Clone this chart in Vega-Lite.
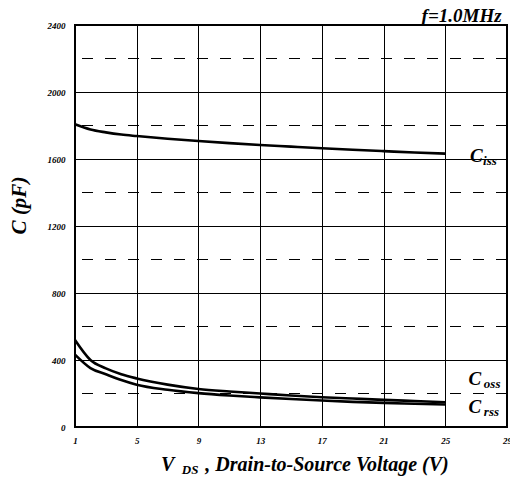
{
  "$schema": "https://vega.github.io/schema/vega-lite/v6.json",
  "width": 432,
  "height": 402,
  "autosize": {"type": "none"},
  "padding": {"left": 75, "top": 25, "right": 3, "bottom": 58},
  "background": "white",
  "config": {
    "view": {"stroke": "black", "strokeWidth": 2},
    "font": "Liberation Serif"
  },
  "datasets": {
    "curves": [
      {"series": "Ciss", "vds": 1, "c": 1807}, {"series": "Ciss", "vds": 2, "c": 1776}, {"series": "Ciss", "vds": 3, "c": 1759}, {"series": "Ciss", "vds": 4, "c": 1746}, {"series": "Ciss", "vds": 5, "c": 1737}, {"series": "Ciss", "vds": 7, "c": 1721}, {"series": "Ciss", "vds": 9, "c": 1707}, {"series": "Ciss", "vds": 11, "c": 1695}, {"series": "Ciss", "vds": 13, "c": 1684}, {"series": "Ciss", "vds": 15, "c": 1674}, {"series": "Ciss", "vds": 17, "c": 1664}, {"series": "Ciss", "vds": 19, "c": 1655}, {"series": "Ciss", "vds": 21, "c": 1647}, {"series": "Ciss", "vds": 23, "c": 1639}, {"series": "Ciss", "vds": 25, "c": 1632},
      {"series": "Coss", "vds": 1, "c": 519}, {"series": "Coss", "vds": 2, "c": 400}, {"series": "Coss", "vds": 3, "c": 350}, {"series": "Coss", "vds": 4, "c": 315}, {"series": "Coss", "vds": 5, "c": 290}, {"series": "Coss", "vds": 7, "c": 253}, {"series": "Coss", "vds": 9, "c": 227}, {"series": "Coss", "vds": 11, "c": 212}, {"series": "Coss", "vds": 13, "c": 200}, {"series": "Coss", "vds": 15, "c": 188}, {"series": "Coss", "vds": 17, "c": 178}, {"series": "Coss", "vds": 19, "c": 170}, {"series": "Coss", "vds": 21, "c": 162}, {"series": "Coss", "vds": 23, "c": 155}, {"series": "Coss", "vds": 25, "c": 148},
      {"series": "Crss", "vds": 1, "c": 432}, {"series": "Crss", "vds": 2, "c": 352}, {"series": "Crss", "vds": 3, "c": 315}, {"series": "Crss", "vds": 4, "c": 280}, {"series": "Crss", "vds": 5, "c": 252}, {"series": "Crss", "vds": 7, "c": 222}, {"series": "Crss", "vds": 9, "c": 202}, {"series": "Crss", "vds": 11, "c": 188}, {"series": "Crss", "vds": 13, "c": 177}, {"series": "Crss", "vds": 15, "c": 167}, {"series": "Crss", "vds": 17, "c": 158}, {"series": "Crss", "vds": 19, "c": 150}, {"series": "Crss", "vds": 21, "c": 144}, {"series": "Crss", "vds": 23, "c": 139}, {"series": "Crss", "vds": 25, "c": 134}
    ],
    "dashed": [{"c": 200}, {"c": 600}, {"c": 1000}, {"c": 1400}, {"c": 1800}, {"c": 2200}],
    "bigLabels": [
      {"t": "C", "vds": 26.6, "c": 1584},
      {"t": "C", "vds": 26.5, "c": 251},
      {"t": "C", "vds": 26.5, "c": 82}
    ],
    "subLabels": [
      {"t": "iss", "vds": 27.45, "c": 1564},
      {"t": "oss", "vds": 27.5, "c": 233},
      {"t": "rss", "vds": 27.5, "c": 66}
    ],
    "freq": [{"t": "f=1.0MHz", "vds": 28.65, "c": 2420}],
    "xtitle": [
      {"t": "V", "vds": 6.57, "c": -263},
      {"t": ", Drain-to-Source Voltage (V)", "vds": 9.45, "c": -263}
    ],
    "xsub": [{"t": "DS", "vds": 7.92, "c": -279}]
  },
  "layer": [
    {
      "data": {"name": "dashed"},
      "mark": {"type": "rule", "color": "black", "strokeWidth": 1, "strokeDash": [11, 12]},
      "encoding": {
        "y": {"field": "c", "type": "quantitative", "scale": {"domain": [0, 2400], "nice": false}}
      }
    },
    {
      "data": {"name": "curves"},
      "mark": {"type": "line", "color": "black", "strokeWidth": 2.6, "interpolate": "monotone"},
      "encoding": {
        "x": {
          "field": "vds", "type": "quantitative",
          "scale": {"domain": [1, 29], "nice": false, "zero": false},
          "axis": {
            "values": [1, 5, 9, 13, 17, 21, 25, 29], "format": "d",
            "grid": true, "gridColor": "black", "gridOpacity": 1, "gridWidth": 1,
            "domain": false, "ticks": false, "labelPadding": 9,
            "labelFont": "Liberation Serif", "labelFontStyle": "italic", "labelFontWeight": "bold",
            "labelFontSize": 9, "labelColor": "black", "labelFlush": false,
            "title": null
          }
        },
        "y": {
          "field": "c", "type": "quantitative",
          "scale": {"domain": [0, 2400], "nice": false},
          "axis": {
            "values": [0, 400, 800, 1200, 1600, 2000, 2400], "format": "d",
            "grid": true, "gridColor": "black", "gridOpacity": 1, "gridWidth": 1,
            "domain": false, "ticks": false, "labelPadding": 10,
            "labelFont": "Liberation Serif", "labelFontStyle": "italic", "labelFontWeight": "bold",
            "labelFontSize": 9, "labelColor": "black",
            "title": "C (pF)", "titleFont": "Liberation Serif", "titleFontStyle": "italic",
            "titleFontWeight": "bold", "titleFontSize": 21, "titleColor": "black", "titlePadding": 18,
            "titleY": 180
          }
        },
        "detail": {"field": "series"}
      }
    },
    {
      "data": {"name": "bigLabels"},
      "mark": {"type": "text", "font": "Liberation Serif", "fontStyle": "italic", "fontWeight": "bold", "fontSize": 19, "align": "left", "baseline": "alphabetic", "color": "black"},
      "encoding": {
        "x": {"field": "vds", "type": "quantitative"},
        "y": {"field": "c", "type": "quantitative"},
        "text": {"field": "t"}
      }
    },
    {
      "data": {"name": "subLabels"},
      "mark": {"type": "text", "font": "Liberation Serif", "fontStyle": "italic", "fontWeight": "bold", "fontSize": 13, "align": "left", "baseline": "alphabetic", "color": "black"},
      "encoding": {
        "x": {"field": "vds", "type": "quantitative"},
        "y": {"field": "c", "type": "quantitative"},
        "text": {"field": "t"}
      }
    },
    {
      "data": {"name": "freq"},
      "mark": {"type": "text", "font": "Liberation Serif", "fontStyle": "italic", "fontWeight": "bold", "fontSize": 19, "align": "right", "baseline": "alphabetic", "color": "black"},
      "encoding": {
        "x": {"field": "vds", "type": "quantitative"},
        "y": {"field": "c", "type": "quantitative"},
        "text": {"field": "t"}
      }
    },
    {
      "data": {"name": "xtitle"},
      "mark": {"type": "text", "font": "Liberation Serif", "fontStyle": "italic", "fontWeight": "bold", "fontSize": 20, "align": "left", "baseline": "alphabetic", "color": "black"},
      "encoding": {
        "x": {"field": "vds", "type": "quantitative"},
        "y": {"field": "c", "type": "quantitative"},
        "text": {"field": "t"}
      }
    },
    {
      "data": {"name": "xsub"},
      "mark": {"type": "text", "font": "Liberation Serif", "fontStyle": "italic", "fontWeight": "bold", "fontSize": 13, "align": "left", "baseline": "alphabetic", "color": "black"},
      "encoding": {
        "x": {"field": "vds", "type": "quantitative"},
        "y": {"field": "c", "type": "quantitative"},
        "text": {"field": "t"}
      }
    }
  ]
}
